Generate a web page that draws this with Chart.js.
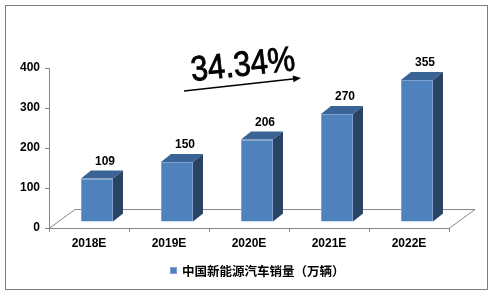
<!DOCTYPE html>
<html>
<head>
<meta charset="utf-8">
<script src="https://cdn.jsdelivr.net/npm/chart.js@4.4.1/dist/chart.umd.min.js"></script>
<style>
    html, body { margin: 0; padding: 0; background: #fff; }
</style>
</head>
<body>
<canvas id="salesChart" width="494" height="296"></canvas>
<script>
"use strict";

// データ
const categories = ["2018E", "2019E", "2020E", "2021E", "2022E"];
const sales = [109, 150, 206, 270, 355];
const seriesName = "中国新能源汽车销量（万辆）";
const yTicks = [0, 100, 200, 300, 400];
const growthLabel = "34.34%";

// 色
const FRONT = "#4f81bd";
const FRONT_EDGE = "#7ea3d3";
const TOP = "#3a6396";
const SIDE = "#2a4263";
const AXIS = "#868686";

// 床の奥行き
const FLOOR_DX = 26, FLOOR_DY = 19;
// 棒の位置（奥行き方向）
const BAR_DX = 8, BAR_DY = 6;
// 棒の奥行き
const DEPTH_DX = 10, DEPTH_DY = 8;

const boldFont = "bold 12px 'Liberation Sans', Arial, sans-serif";

/*
 * 3D風の描画
 */
const bar3d = {
    id: "bar3d",
    beforeDraw(chart) {
        const ctx = chart.ctx;
        ctx.save();
        ctx.strokeStyle = "#7f7f7f";
        ctx.lineWidth = 1;
        ctx.strokeRect(5.5, 5.5, 482, 284);
        ctx.restore();
    },
    beforeDatasetsDraw(chart) {
        const ctx = chart.ctx;
        const a = chart.chartArea;
        // 床
        ctx.save();
        ctx.strokeStyle = AXIS;
        ctx.lineWidth = 1;
        ctx.beginPath();
        ctx.moveTo(a.left, a.bottom + 0.5);
        ctx.lineTo(a.left + FLOOR_DX, a.bottom - FLOOR_DY + 0.5);
        ctx.lineTo(a.right + FLOOR_DX, a.bottom - FLOOR_DY + 0.5);
        ctx.lineTo(a.right, a.bottom + 0.5);
        ctx.stroke();
        ctx.restore();
        // 前面は少し奥へずらす
        ctx.save();
        ctx.translate(BAR_DX, -BAR_DY);
    },
    afterDatasetsDraw(chart) {
        const ctx = chart.ctx;
        ctx.restore();
        const meta = chart.getDatasetMeta(0);
        meta.data.forEach((bar, i) => {
            const p = bar.getProps(["x", "y", "base", "width"], true);
            const l = p.x - p.width / 2 + BAR_DX;
            const r = p.x + p.width / 2 + BAR_DX;
            const t = p.y - BAR_DY;
            const b = p.base - BAR_DY;
            ctx.save();
            // 上面
            ctx.fillStyle = TOP;
            ctx.beginPath();
            ctx.moveTo(l, t);
            ctx.lineTo(l + DEPTH_DX, t - DEPTH_DY);
            ctx.lineTo(r + DEPTH_DX, t - DEPTH_DY);
            ctx.lineTo(r, t);
            ctx.closePath();
            ctx.fill();
            // 側面
            ctx.fillStyle = SIDE;
            ctx.beginPath();
            ctx.moveTo(r, t);
            ctx.lineTo(r + DEPTH_DX, t - DEPTH_DY);
            ctx.lineTo(r + DEPTH_DX, b - DEPTH_DY);
            ctx.lineTo(r, b);
            ctx.closePath();
            ctx.fill();
            // 値ラベル
            ctx.fillStyle = "#000";
            ctx.font = boldFont;
            ctx.textAlign = "center";
            ctx.textBaseline = "middle";
            ctx.fillText(String(sales[i]), p.x + 16, p.y - 23);
            ctx.restore();
        });
    },
    afterDraw(chart) {
        const ctx = chart.ctx;
        // 凡例
        ctx.save();
        ctx.fillStyle = FRONT;
        ctx.fillRect(170, 267, 7, 7);
        ctx.strokeStyle = FRONT_EDGE;
        ctx.strokeRect(170.5, 267.5, 6, 6);
        ctx.fillStyle = "#000";
        ctx.font = "bold 12.5px 'Noto Sans CJK SC', sans-serif";
        ctx.textBaseline = "middle";
        ctx.fillText(chart.data.datasets[0].label, 182, 271);
        ctx.restore();

        // 成長率の注記
        ctx.save();
        ctx.translate(243, 66);
        ctx.rotate(-6 * Math.PI / 180);
        ctx.scale(0.88, 1);
        ctx.fillStyle = "#000";
        ctx.strokeStyle = "#000";
        ctx.lineWidth = 0.9;
        ctx.font = "35px 'Liberation Sans', Arial, sans-serif";
        ctx.textAlign = "center";
        ctx.textBaseline = "middle";
        ctx.fillText(growthLabel, 0, 0);
        ctx.strokeText(growthLabel, 0, 0);
        ctx.restore();

        // 矢印
        ctx.save();
        ctx.strokeStyle = "#000";
        ctx.fillStyle = "#000";
        ctx.lineWidth = 1.5;
        const x0 = 184, y0 = 91, x1 = 301, y1 = 78;
        const ang = Math.atan2(y1 - y0, x1 - x0);
        ctx.beginPath();
        ctx.moveTo(x0, y0);
        ctx.lineTo(x1 - 6 * Math.cos(ang), y1 - 6 * Math.sin(ang));
        ctx.stroke();
        ctx.translate(x1, y1);
        ctx.rotate(ang);
        ctx.beginPath();
        ctx.moveTo(0, 0);
        ctx.lineTo(-8, -3.5);
        ctx.lineTo(-8, 3.5);
        ctx.closePath();
        ctx.fill();
        ctx.restore();
    }
};

const ctx = document.getElementById("salesChart");
new Chart(ctx, {
    type: "bar",
    data: {
        labels: categories,
        datasets: [
            {
                label: seriesName,
                data: sales,
                backgroundColor: FRONT,
                borderColor: FRONT_EDGE,
                borderWidth: 1,
                barPercentage: 0.4,
                categoryPercentage: 1.0
            }
        ]
    },
    options: {
        responsive: false,
        animation: false,
        devicePixelRatio: 1,
        layout: {
            padding: { top: 68, right: 45, left: 0, bottom: 0 }
        },
        plugins: {
            legend: { display: false },
            tooltip: { enabled: false }
        },
        scales: {
            y: {
                min: yTicks[0],
                max: yTicks[yTicks.length - 1],
                afterFit: scale => { scale.width = 49; },
                afterBuildTicks: scale => { scale.ticks = yTicks.map(v => ({ value: v })); },
                ticks: {
                    color: "#000",
                    font: { family: "'Liberation Sans', Arial, sans-serif", size: 12, weight: "bold" },
                    padding: 5
                },
                grid: { drawOnChartArea: false, drawTicks: true, tickLength: 4, color: AXIS },
                border: { color: AXIS }
            },
            x: {
                afterFit: scale => { scale.height = 68; },
                ticks: {
                    color: "#000",
                    font: { family: "'Liberation Sans', Arial, sans-serif", size: 12, weight: "bold" },
                    padding: 4
                },
                grid: { offset: true, drawOnChartArea: false, drawTicks: true, tickLength: 4, color: AXIS },
                border: { color: AXIS }
            }
        }
    },
    plugins: [bar3d]
});
</script>
</body>
</html>
